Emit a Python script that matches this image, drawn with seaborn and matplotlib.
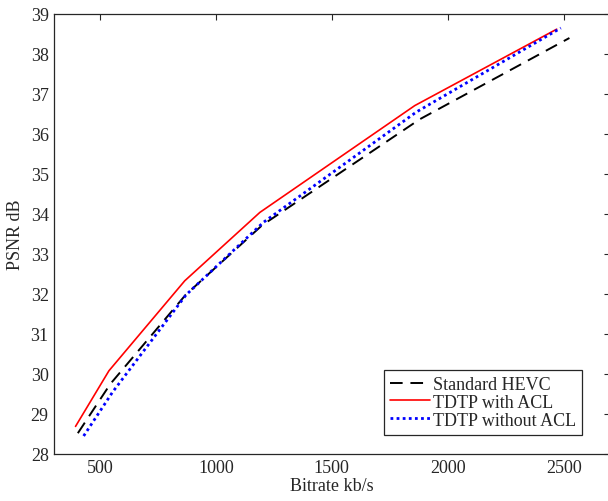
import matplotlib
matplotlib.use("Agg")
import matplotlib.pyplot as plt
import seaborn as sns
import pandas as pd

# Data
hevc_rate = [405, 545, 870, 1200, 1880, 2525]
hevc_psnr = [28.52, 29.75, 31.98, 33.72, 36.37, 38.40]
acl_rate = [395, 539, 866, 1190, 1858, 2470]
acl_psnr = [28.69, 30.08, 32.33, 34.04, 36.71, 38.62]
noacl_rate = [430, 555, 872, 1205, 1865, 2488]
noacl_psnr = [28.45, 29.55, 31.98, 33.79, 36.55, 38.65]

labels = ["Standard HEVC", "TDTP with ACL", "TDTP without ACL"]
xticks = [500, 1000, 1500, 2000, 2500]
yticks = list(range(28, 40))

sns.set_theme(style="white")
plt.rcParams["font.family"] = ["Liberation Serif", "DejaVu Serif"]

FS = 13

fig = plt.figure(figsize=(6.08, 5.02), dpi=100)
ax = fig.add_axes([53.5 / 608, 47 / 502, (610 - 53.5) / 608, (455 - 15) / 502])

df_h = pd.DataFrame({"rate": hevc_rate, "psnr": hevc_psnr})
df_a = pd.DataFrame({"rate": acl_rate, "psnr": acl_psnr})
df_n = pd.DataFrame({"rate": noacl_rate, "psnr": noacl_psnr})

sns.lineplot(data=df_h, x="rate", y="psnr", ax=ax, color="black", lw=1.4,
             sort=False, label=labels[0], linestyle=(0, (6.5, 4)))
sns.lineplot(data=df_a, x="rate", y="psnr", ax=ax, color="#ff0000", lw=1.2,
             sort=False, label=labels[1])
sns.lineplot(data=df_n, x="rate", y="psnr", ax=ax, color="#0000ff", lw=2.0,
             sort=False, label=labels[2], linestyle=(0, (1, 1.2)))

ax.set_xlim(300, 2700)
ax.set_ylim(28, 39)
ax.set_xticks(xticks)
ax.set_yticks(yticks)
ax.tick_params(direction="in", length=4, width=0.8, colors="#262626",
               labelsize=FS, top=True, right=True, labelcolor="#262626")
for s in ax.spines.values():
    s.set_visible(True)
    s.set_color("#262626")
    s.set_linewidth(0.9)

ax.set_xlabel("Bitrate kb/s", fontsize=FS, color="#262626", labelpad=1)
ax.set_ylabel("PSNR dB", fontsize=FS, color="#262626", labelpad=5)

leg = ax.legend(loc="lower right", bbox_to_anchor=(582 / 608, 66 / 502),
                bbox_transform=fig.transFigure, borderaxespad=0,
                fontsize=FS, frameon=True, fancybox=False, framealpha=1,
                edgecolor="#262626", handlelength=2.2, handletextpad=0.15,
                labelspacing=0.05, borderpad=0.35)
leg.get_frame().set_linewidth(0.9)

fig.savefig("out.png", dpi=100)
